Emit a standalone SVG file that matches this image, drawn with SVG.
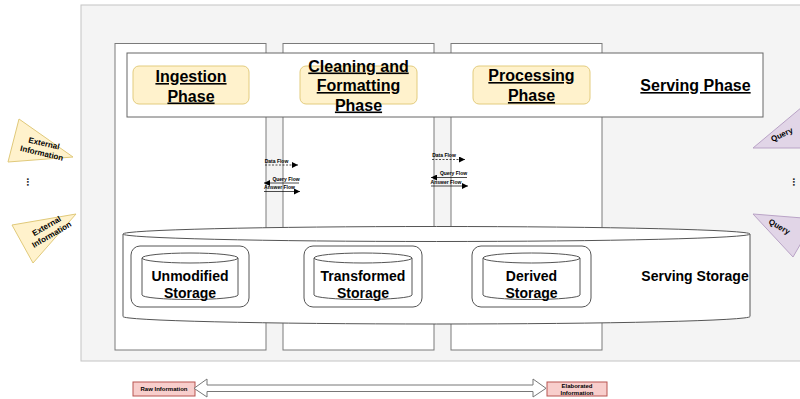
<svg xmlns="http://www.w3.org/2000/svg" width="800" height="399" viewBox="0 0 800 399">
<defs>
<style>
text{font-family:"Liberation Sans",Arial,Helvetica,sans-serif;font-weight:bold;fill:#000;text-anchor:middle}
.col{fill:#fff;stroke:#7a7a7a;stroke-width:1}
.phase{fill:#fff2cc;stroke:#e3cc7e;stroke-width:1}
.ph{font-size:16px;text-decoration:underline}
.st{fill:#fff;stroke:#555;stroke-width:1}
.sl{font-size:14px}
.fl{font-size:5px}
.ext{fill:#fff2cc;stroke:#e0c97a;stroke-width:1}
.qry{fill:#e1d5e7;stroke:#b9a3c6;stroke-width:1}
.tri{font-size:8px}
.red{fill:#f8cecc;stroke:#b85450;stroke-width:1}
.sm{font-size:6px}
.ln{fill:none;stroke:#000;stroke-width:0.7}
</style>
<marker id="ah" viewBox="0 0 6 6" refX="6" refY="3" markerWidth="6" markerHeight="6" markerUnits="userSpaceOnUse" orient="auto">
<path d="M0,0 L6,3 L0,6 Z" fill="#000"/>
</marker>
</defs>
<rect width="800" height="399" fill="#fff"/>
<g id="container"><rect x="81" y="5" width="740" height="356" fill="#f4f4f4" stroke="#c4c4c4" stroke-width="1"/></g>
<g id="col1"><rect class="col" x="115" y="43.5" width="151" height="306.5"/></g>
<g id="col2"><rect class="col" x="283" y="43.5" width="151" height="306.5"/></g>
<g id="col3"><rect class="col" x="451" y="43.5" width="151" height="306.5"/></g>
<g id="serving-phase">
<rect x="127" y="53" width="636" height="64" fill="#fff" stroke="#666" stroke-width="1"/>
<text class="ph" x="695.5" y="91">Serving Phase</text>
</g>
<g id="ingestion">
<rect class="phase" x="133" y="66" width="116" height="38" rx="6"/>
<text class="ph" x="191" y="82">Ingestion</text>
<text class="ph" x="191" y="101.5">Phase</text>
</g>
<g id="cleaning">
<rect class="phase" x="300" y="66" width="117" height="38" rx="6"/>
<text class="ph" x="358.5" y="71.5">Cleaning and</text>
<text class="ph" x="358.5" y="91">Formatting</text>
<text class="ph" x="358.5" y="110.5">Phase</text>
</g>
<g id="processing">
<rect class="phase" x="473" y="66" width="117" height="38" rx="6"/>
<text class="ph" x="531.5" y="81">Processing</text>
<text class="ph" x="531.5" y="101">Phase</text>
</g>
<g id="serving-storage">
<path class="st" d="M123,234 A313.5,7.5 0 0 1 750,234 L750,316.5 A313.5,7.5 0 0 1 123,316.5 Z"/>
<path class="st" fill="none" d="M123,234 A313.5,7.5 0 0 0 750,234"/>
<text class="sl" x="695" y="281">Serving Storage</text>
</g>
<g id="unmodified">
<rect x="131" y="246" width="118" height="61" rx="9" fill="#fff" stroke="#555"/>
<path class="st" d="M142,258 A48,5 0 0 1 238,258 L238,295 A48,4.5 0 0 1 142,295 Z"/>
<path class="st" fill="none" d="M142,258 A48,5 0 0 0 238,258"/>
<text class="sl" x="190" y="281">Unmodified</text>
<text class="sl" x="190" y="298">Storage</text>
</g>
<g id="transformed">
<rect x="304" y="246" width="118" height="61" rx="9" fill="#fff" stroke="#555"/>
<path class="st" d="M314,258 A49,5 0 0 1 412,258 L412,295 A49,4.5 0 0 1 314,295 Z"/>
<path class="st" fill="none" d="M314,258 A49,5 0 0 0 412,258"/>
<text class="sl" x="363" y="281">Transformed</text>
<text class="sl" x="363" y="298">Storage</text>
</g>
<g id="derived">
<rect x="472" y="246" width="119" height="61" rx="9" fill="#fff" stroke="#555"/>
<path class="st" d="M483,258 A48.5,5 0 0 1 580,258 L580,295 A48.5,4.5 0 0 1 483,295 Z"/>
<path class="st" fill="none" d="M483,258 A48.5,5 0 0 0 580,258"/>
<text class="sl" x="531.5" y="281">Derived</text>
<text class="sl" x="531.5" y="298">Storage</text>
</g>
<g id="ext1">
<polygon class="ext" points="19,119 8,162 73,157"/>
<g transform="translate(43,148) rotate(13)"><text class="tri" y="-2">External</text><text class="tri" y="8">Information</text></g>
</g>
<g id="ext2">
<polygon class="ext" points="12,225 76,214 33,263"/>
<g transform="translate(49,230) rotate(-30)"><text class="tri" y="-2">External</text><text class="tri" y="8">Information</text></g>
</g>
<g id="dots-left"><text transform="translate(27,182) rotate(90)" font-size="10" y="0.5">...</text></g>
<g id="query1">
<polygon class="qry" points="753,148 814,97 814,148"/>
<text class="tri" transform="translate(783,137) rotate(-25)">Query</text>
</g>
<g id="query2">
<polygon class="qry" points="753,214 815,219 793,257"/>
<text class="tri" transform="translate(778,229) rotate(30)">Query</text>
</g>
<g id="dots-right"><text transform="translate(793,182) rotate(90)" font-size="10" y="0.5">...</text></g>
<g id="raw">
<rect class="red" x="133" y="382" width="62" height="14"/>
<text class="sm" x="164" y="391">Raw Information</text>
</g>
<g id="elaborated">
<rect class="red" x="547" y="382" width="60" height="14"/>
<text class="sm" x="577" y="388">Elaborated</text>
<text class="sm" x="577" y="395">Information</text>
</g>
<g id="connectors">
<text class="fl" x="276.5" y="163">Data Flow</text>
<path class="ln" stroke-dasharray="2,1.5" d="M265,165 L298,165" marker-end="url(#ah)"/>
<text class="fl" x="286" y="181">Query Flow</text>
<path class="ln" d="M299,183 L264,183" marker-end="url(#ah)"/>
<text class="fl" x="279.5" y="189">Answer Flow</text>
<path class="ln" d="M264,191.5 L300,191.5" marker-end="url(#ah)"/>
<text class="fl" x="444" y="157">Data Flow</text>
<path class="ln" stroke-dasharray="2,1.5" d="M432,159.5 L465,159.5" marker-end="url(#ah)"/>
<text class="fl" x="453.5" y="175">Query Flow</text>
<path class="ln" d="M467,177.5 L431,177.5" marker-end="url(#ah)"/>
<text class="fl" x="446" y="184">Answer Flow</text>
<path class="ln" d="M431,186 L468,186" marker-end="url(#ah)"/>
<polygon fill="#fff" stroke="#777" stroke-width="1" points="194,388.3 207,379 207,385 533,385 533,379 546,388.3 533,397 533,391.5 207,391.5 207,397"/>
</g>
</svg>
